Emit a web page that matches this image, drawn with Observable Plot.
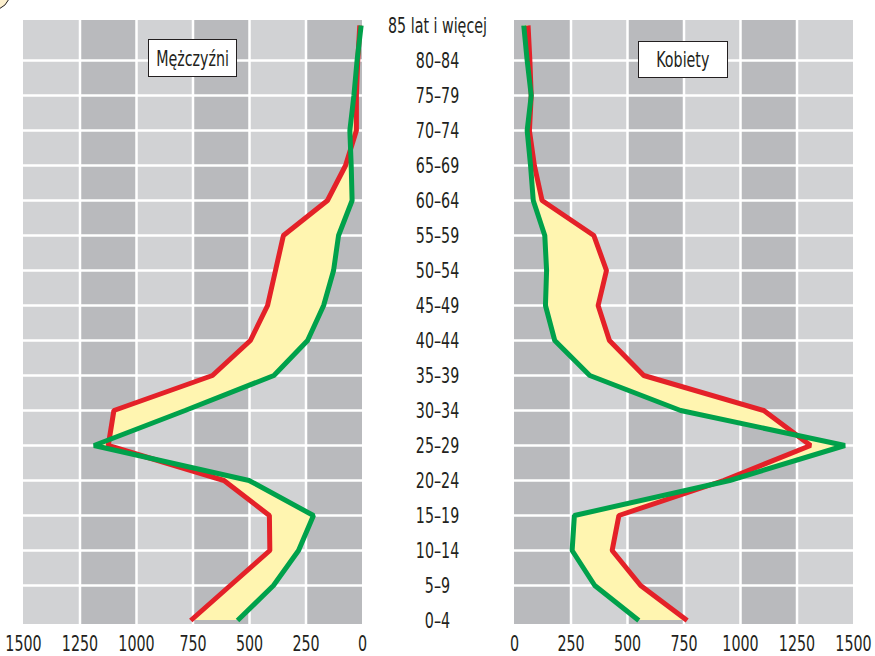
<!DOCTYPE html>
<html>
<head>
<meta charset="utf-8">
<script src="https://cdn.jsdelivr.net/npm/d3@7"></script>
<script src="https://cdn.jsdelivr.net/npm/@observablehq/plot@0.6"></script>
<style>
  html, body { margin: 0; padding: 0; background: #ffffff; }
  #wrap { position: relative; width: 875px; height: 656px; overflow: hidden; font-family: 'Liberation Sans Narrow', 'DejaVu Sans Condensed', 'Roboto Condensed', sans-serif; color: #231f20; }
  .panel { position: absolute; top: 0; }
  .box { position: absolute; background: #ffffff; border: 1.5px solid #231f20; box-sizing: border-box; font-size: 22px; display: flex; align-items: center; justify-content: center; }
  .box span { display: inline-block; transform: scaleX(0.72); white-space: nowrap; }
  .badge { position: absolute; left: -22px; top: -22px; width: 30px; height: 30px; border-radius: 50%; background: #fdf0cf; border: 1px solid #231f20; }
</style>
</head>
<body>
<div id="wrap">
  <div class="badge"></div>
  <div id="left" class="panel" style="left:0px"></div>
  <div id="right" class="panel" style="left:380px"></div>
  <div class="box" style="left:148px; top:39px; width:89px; height:38px;"><span>Mężczyźni</span></div>
  <div class="box" style="left:638px; top:41px; width:90px; height:37px;"><span>Kobiety</span></div>
</div>
<script>
// Age groups, youngest first
const ages = ["0–4","5–9","10–14","15–19","20–24","25–29","30–34","35–39","40–44","45–49","50–54","55–59","60–64","65–69","70–74","75–79","80–84","85 lat i więcej"];

// Men (Mężczyźni) – red and green series
const menRed   = [760, 585, 410, 412, 613, 1125, 1100, 664, 496, 420, 385, 350, 155, 75, 27, 27, 21, 12];
const menGreen = [553, 394, 283, 217, 502, 1188, 785, 392, 243, 172, 128, 106, 46, 50, 56, 38, 24, 6];

// Women (Kobiety) – red and green series
const womenRed   = [764, 558, 432, 462, 925, 1310, 1103, 572, 420, 370, 407, 351, 122, 88, 66, 74, 68, 60];
const womenGreen = [550, 355, 255, 265, 952, 1462, 735, 333, 178, 137, 142, 134, 83, 71, 56, 74, 56, 41];

// Axis ticks
const xTicks = [0, 250, 500, 750, 1000, 1250, 1500];
const gridX = [250, 500, 750, 1000, 1250];
const darkBands = [[0, 250], [500, 750], [1000, 1250]];
const lightBands = [[250, 500], [750, 1000], [1250, 1500]];

const RED = "#e42128", GREEN = "#00a14b", YELLOW = "#fff5b0", DARK = "#b9babd", LIGHT = "#d1d2d4";
const FONT = "'Liberation Sans Narrow', 'DejaVu Sans Condensed', 'Roboto Condensed', sans-serif";

const men = ages.map((a, i) => ({age: a, red: menRed[i], green: menGreen[i]}));
const women = ages.map((a, i) => ({age: a, red: womenRed[i], green: womenGreen[i]}));
const yDomain = ages.slice().reverse();

function panel(data, opts) {
  return Plot.plot({
    width: opts.width,
    height: 656,
    marginTop: 20,
    marginBottom: 32,
    marginLeft: opts.marginLeft,
    marginRight: opts.marginRight,
    style: {fontFamily: FONT, fontSize: "22px", color: "#231f20", background: "transparent", overflow: "visible"},
    x: {domain: [0, 1500], reverse: opts.reverse},
    y: {type: "point", domain: yDomain, padding: 0},
    marks: [
      Plot.rect(darkBands, {x1: d => d[0], x2: d => d[1], fill: DARK}),
      Plot.rect(lightBands, {x1: d => d[0], x2: d => d[1], fill: LIGHT}),
      Plot.ruleX(gridX, {stroke: "#ffffff", strokeWidth: 2.5}),
      Plot.ruleY(ages.slice(1, -1), {stroke: "#ffffff", strokeWidth: 2.5}),
      Plot.areaX(data, {y: "age", x1: "red", x2: "green", fill: YELLOW}),
      Plot.lineX(data, {y: "age", x: "red", stroke: RED, strokeWidth: 5, strokeLinejoin: "miter", strokeLinecap: "butt"}),
      Plot.lineX(data, {y: "age", x: "green", stroke: GREEN, strokeWidth: 5, strokeLinejoin: "miter", strokeLinecap: "butt"}),
      Plot.axisX({anchor: "bottom", ticks: xTicks, tickSize: 0, tickPadding: 11, tickFormat: d => String(d), label: null}),
      opts.yAxis
        ? Plot.axisY({anchor: "left", tickSize: 0, tickPadding: 77, textAnchor: "middle", label: null})
        : Plot.axisY({ticks: [], label: null, tickSize: 0})
    ]
  });
}

// Condense the glyphs horizontally (the reference uses a narrow typeface)
function condense(svg, k) {
  svg.querySelectorAll("text").forEach(t => {
    const len = t.getComputedTextLength();
    if (len > 0) {
      t.setAttribute("textLength", (len * k).toFixed(1));
      t.setAttribute("lengthAdjust", "spacingAndGlyphs");
    }
  });
}

const leftSvg = panel(men, {width: 380, marginLeft: 23, marginRight: 18, reverse: true, yAxis: false});
const rightSvg = panel(women, {width: 495, marginLeft: 134, marginRight: 22, reverse: false, yAxis: true});
document.getElementById("left").appendChild(leftSvg);
document.getElementById("right").appendChild(rightSvg);
condense(leftSvg, 0.72);
condense(rightSvg, 0.72);
</script>
</body>
</html>
